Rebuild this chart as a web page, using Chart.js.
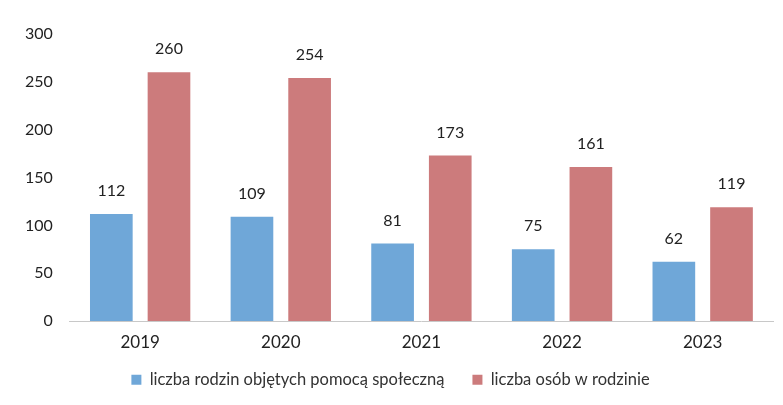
<!DOCTYPE html>
<html>
<head>
<meta charset="utf-8">
<script src="https://cdn.jsdelivr.net/npm/chart.js@4"></script>
<style>
  html, body { margin: 0; padding: 0; background: #fff; }
  #wrap { width: 783px; height: 405px; }
</style>
</head>
<body>
<div id="wrap"><canvas id="chart"></canvas></div>
<script>
// data
var years = ["2019", "2020", "2021", "2022", "2023"];
var families = [112, 109, 81, 75, 62];
var persons = [260, 254, 173, 161, 119];
var seriesNames = ["liczba rodzin objętych pomocą społeczną", "liczba osób w rodzinie"];

var fontFamily = 'Lato, "Open Sans", sans-serif';
var legendShift = 21;

// small inline plugin: value above each bar
var valueLabels = {
    id: 'valueLabels',
    afterDatasetsDraw: function (chart) {
        var ctx = chart.ctx;
        ctx.save();
        ctx.font = '16px ' + fontFamily;
        ctx.fillStyle = '#222';
        ctx.textAlign = 'center';
        ctx.textBaseline = 'middle';
        chart.data.datasets.forEach(function (ds, i) {
            chart.getDatasetMeta(i).data.forEach(function (bar, j) {
                ctx.fillText(ds.data[j], bar.x, bar.y - 23);
            });
        });
        ctx.restore();
    }
};

// legend takes less room but is drawn at the same place (no clip)
var legendTrim = {
    id: 'legendTrim',
    afterInit: function (chart) {
        var lg = chart.legend;
        if (!lg) return;
        var fit = lg.fit;
        lg.fit = function () {
            fit.apply(this, arguments);
            this.height -= legendShift;
        };
        lg.draw = function () {
            if (!this.options.display) return;
            var c = this.ctx;
            c.save();
            c.translate(0, 1 - legendShift);
            this._draw();
            c.restore();
        };
    }
};

new Chart(document.getElementById("chart").getContext("2d"), {
    type: 'bar',
    data: {
        labels: years,
        datasets: [{
            label: seriesNames[0],
            data: families,
            backgroundColor: '#6fa7d8',
            categoryPercentage: 0.82,
            barPercentage: 0.74,
        }, {
            label: seriesNames[1],
            data: persons,
            backgroundColor: '#cc7b7c',
            categoryPercentage: 0.82,
            barPercentage: 0.74,
        }],
    },
    options: {
        responsive: true,
        maintainAspectRatio: false,
        animation: false,
        layout: { padding: { top: 34, right: 10, left: 8, bottom: 8 } },
        scales: {
            x: {
                grid: { display: false, drawTicks: false },
                border: { color: '#c8c8c8', width: 1 },
                ticks: { color: '#222', padding: 11, font: { family: fontFamily, size: 17 } },
            },
            y: {
                min: 0,
                max: 300,
                ticks: { stepSize: 50, color: '#222', padding: 17, font: { family: fontFamily, size: 16 } },
                grid: { display: false, drawTicks: false },
                border: { display: false },
            },
        },
        plugins: {
            legend: {
                position: 'bottom',
                labels: {
                    boxWidth: 10,
                    boxHeight: 10,
                    padding: 28,
                    color: '#333',
                    font: { family: fontFamily, size: 16.5 },
                },
            },
            tooltip: { enabled: false },
        },
    },
    plugins: [valueLabels, legendTrim],
});
</script>
</body>
</html>
